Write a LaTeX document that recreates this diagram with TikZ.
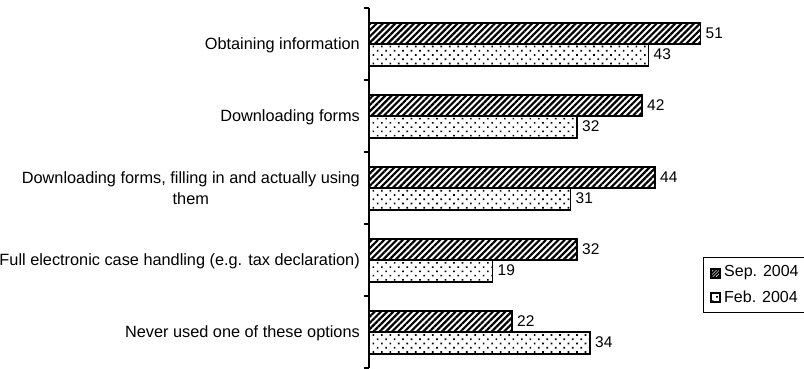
\documentclass[tikz,border=0pt]{standalone}
\usepackage{fontspec}
\setmainfont{Liberation Sans}
\usetikzlibrary{patterns.meta,positioning}

\begin{document}
\begin{tikzpicture}[x=1pt,y=-1pt,
  sepbar/.style={draw=black,line width=1.5pt,
    pattern={Lines[angle=45,distance=4.4pt,line width=2.2pt]}},
  febbar/.style={draw=black,line width=1.5pt,pattern color=black,
    pattern={Dots[angle=45,distance=6pt,radius=1.15pt]}},
  val/.style={anchor=west,inner sep=0pt,font=\fontsize{15.5}{18}\selectfont},
  cat/.style={anchor=east,align=center,inner sep=0pt,
    font=\fontsize{16.3}{21}\selectfont},
  axis/.style={line width=1.4pt,black}
  ]
\useasboundingbox (0,0) rectangle (804,369);

% Category axis with ticks
\coordinate (top) at (369,8);
\coordinate (bot) at (369,368);
\draw[axis] (top) -- (bot);
\foreach \t in {8,80,152,224,296,368}
  \draw[axis] (364,\t) -- (369,\t);

% Category labels
\node[cat] (c1) at (360,45)  {Obtaining information};
\node[cat] (c2) at (360,117) {Downloading forms};
\node[cat] (c3) at (360,188) {Downloading forms, filling in and actually using\\them};
\node[cat] (c4) at (360,261) {Full electronic case handling (e.g. tax declaration)};
\node[cat] (c5) at (360,333) {Never used one of these options};

% Bars: Sep. 2004 (hatched) over Feb. 2004 (dotted), 6.5px per point
\draw[sepbar] (369,23)  rectangle ({369+51*6.5},44);
\draw[febbar] (369,44)  rectangle ({369+43*6.5},66);
\draw[sepbar] (369,95)  rectangle ({369+42*6.5},116);
\draw[febbar] (369,116) rectangle ({369+32*6.5},138);
\draw[sepbar] (369,167) rectangle ({369+44*6.5},188);
\draw[febbar] (369,188) rectangle ({369+31*6.5},210);
\draw[sepbar] (369,239) rectangle ({369+32*6.5},260);
\draw[febbar] (369,260) rectangle ({369+19*6.5},282);
\draw[sepbar] (369,311) rectangle ({369+22*6.5},332);
\draw[febbar] (369,332) rectangle ({369+34*6.5},354);

% Value labels next to the bar ends
\node[val] (s1) at ({374+51*6.5},33)  {51};
\node[val] (f1) at ({374+43*6.5},54)  {43};
\node[val] (s2) at ({374+42*6.5},105) {42};
\node[val] (f2) at ({374+32*6.5},126) {32};
\node[val] (s3) at ({374+44*6.5},177) {44};
\node[val] (f3) at ({374+31*6.5},198) {31};
\node[val] (s4) at ({374+32*6.5},249) {32};
\node[val] (f4) at ({374+19*6.5},270) {19};
\node[val] (s5) at ({374+22*6.5},321) {22};
\node[val] (f5) at ({374+34*6.5},342) {34};

% Legend (box runs off the right edge)
\draw[line width=1pt] (820,257) -- (703,257) -- (703,312) -- (820,312);
\draw[sepbar,line width=1.2pt,pattern={Lines[angle=45,distance=2.2pt,line width=1.5pt]}]
  (711,269) rectangle (720,278);
\node[val,font=\fontsize{16}{18}\selectfont] (lsep) at (724,273) {Sep. 2004};
\draw[febbar,line width=1.2pt] (711,293) rectangle (720,302);
\node[val,font=\fontsize{16}{18}\selectfont] (lfeb) at (724,297) {Feb. 2004};

\end{tikzpicture}
\end{document}
